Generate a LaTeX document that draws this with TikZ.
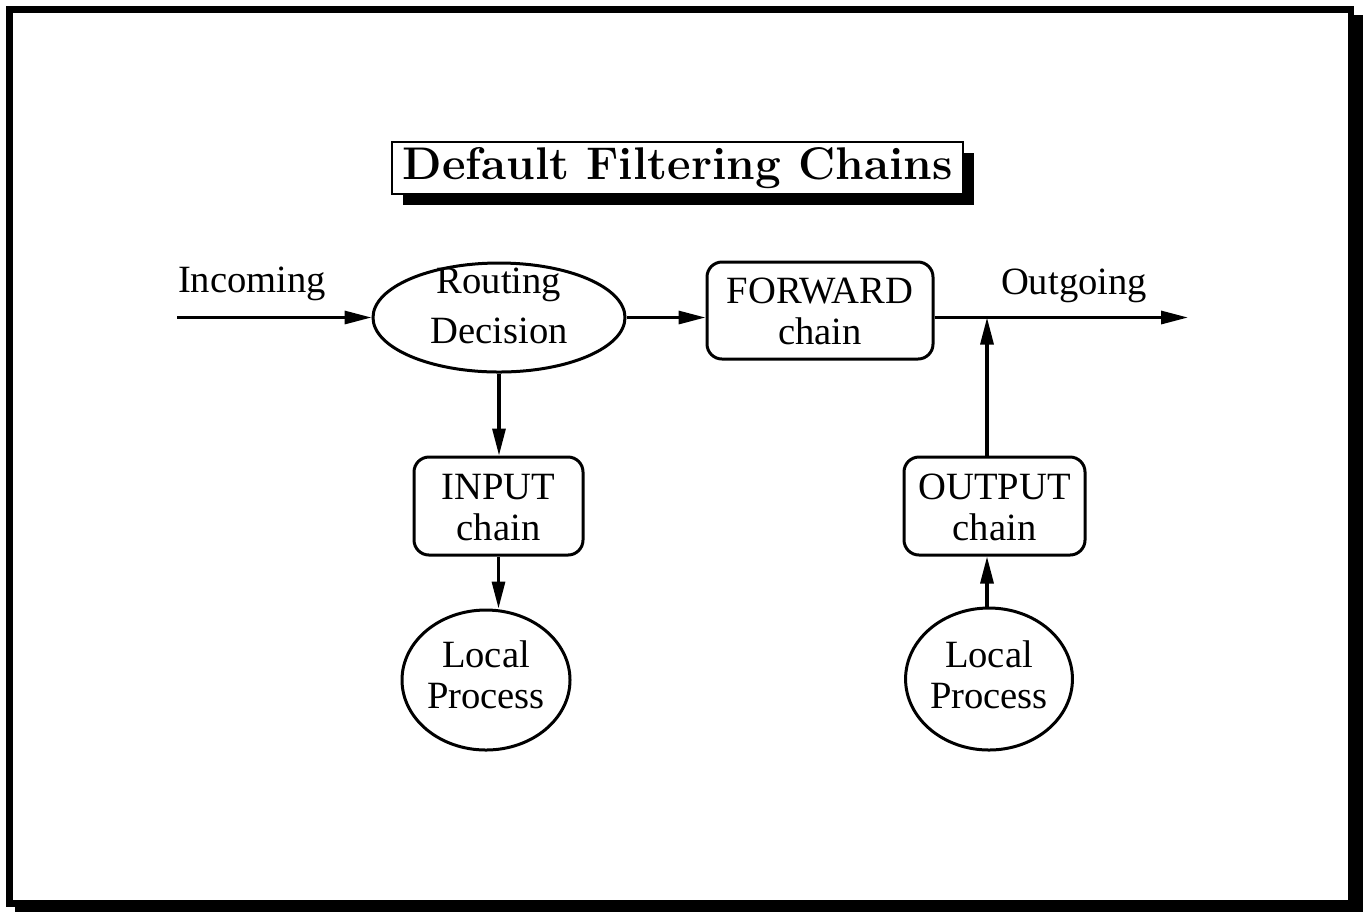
\documentclass[tikz,border=0pt]{standalone}
\usepackage{fontspec}
\setmainfont{Liberation Serif}
\newfontfamily\titlefont{lmroman12-bold.otf}
\usetikzlibrary{arrows.meta,shapes.geometric,shadows}

\begin{document}
\begin{tikzpicture}[x=0.5pt,y=-0.5pt,
  every node/.style={font=\fontsize{19.3}{20.5}\selectfont},
  conn/.style={line width=1.6pt,-{Triangle[length=13.5pt,width=6.5pt]}},
  shapeline/.style={draw,line width=1.5pt,inner sep=0pt,align=center},
  chainbox/.style={shapeline,rectangle,rounded corners=7.5pt},
  oval/.style={shapeline,ellipse},
  titlebox/.style={draw,line width=1.2pt,fill=white,inner sep=0pt,
    font=\titlefont\fontsize{22.9}{26}\selectfont,
    drop shadow={shadow xshift=5.5pt,shadow yshift=-5.5pt,fill=black,opacity=1}},
]
% page frame with its shadow
\useasboundingbox (0,0) rectangle (1363,912);
\fill[black] (15,15) rectangle (1363,912);
\draw[line width=3.35pt,fill=white] (9.35,9.35) rectangle (1351,903.3);

% title
\node[titlebox,minimum width=285.5pt,minimum height=26pt] (title) at (677.5,168) {Default Filtering Chains};

% nodes
\node[oval,text width=70pt,minimum width=126pt,minimum height=54.5pt,
      font=\fontsize{19.3}{25}\selectfont,text height=0pt,text depth=24pt]
      (route) at (499,317.5) {Routing\\Decision};
\node[chainbox,text width=100pt,minimum width=113pt,minimum height=48.5pt,
      text height=0pt,text depth=7.5pt] (fwd) at (820,310.5) {FORWARD\\chain};
\node[chainbox,text width=80pt,minimum width=84.5pt,minimum height=49pt,
      text height=0pt,text depth=7pt] (inp) at (498.5,506) {INPUT\\chain};
\node[chainbox,text width=85pt,minimum width=90.5pt,minimum height=49pt,
      text height=0pt,text depth=7pt] (outp) at (994.5,506) {OUTPUT\\chain};
\node[oval,text width=59pt,minimum width=84pt,minimum height=70pt,
      text height=0pt,text depth=13pt] (lpin) at (486,680) {Local\\Process};
\node[oval,text width=59pt,minimum width=83pt,minimum height=71pt,
      text height=0pt,text depth=12pt] (lpout) at (989,679) {Local\\Process};

% free labels
\node[anchor=base] (inlabel) at (252,292) {Incoming};
\node[anchor=base] (outlabel) at (1074,294) {Outgoing};

% connector end points
\coordinate (src) at (177,317.5);
\coordinate (sink) at (1188,317.5);
\coordinate (merge) at (987,317.5);

% connectors
\draw[conn] (src) -- (route.west);
\draw[conn] (route.east) -- (route.east -| fwd.west);
\draw[conn] (route.south) -- (route.south |- inp.north);
\draw[conn] (inp.south) -- (inp.south |- lpin.north);
\draw[conn] (fwd.east |- merge) -- (sink);
\draw[conn] (merge |- outp.north) -- (merge);
\draw[conn] (merge |- lpout.north) -- (merge |- outp.south);
\end{tikzpicture}
\end{document}
